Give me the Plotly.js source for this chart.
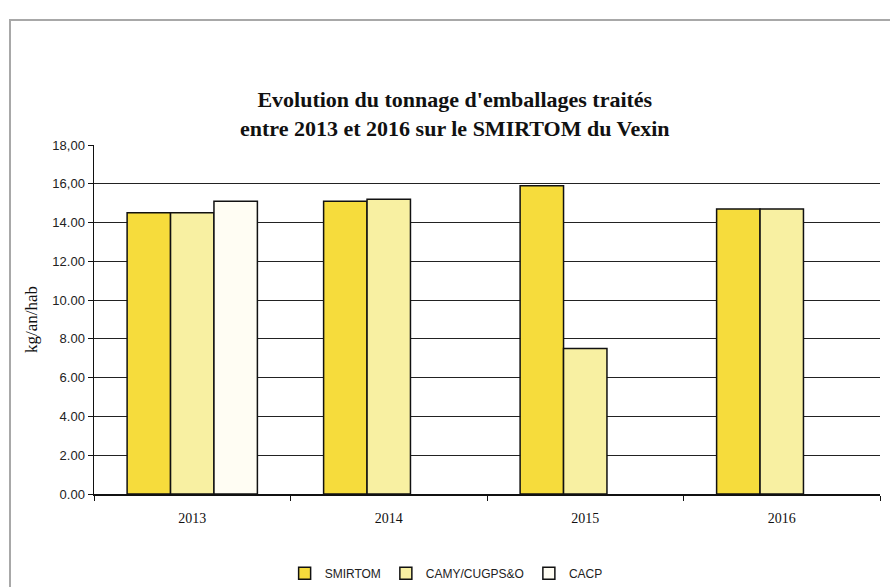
<!DOCTYPE html>
<html>
<head>
<meta charset="utf-8">
<script src="https://cdn.plot.ly/plotly-3.0.1.min.js"></script>
<style>
html,body{margin:0;padding:0;background:#fff;}
#wrap{position:relative;width:890px;height:587px;overflow:hidden;}
#chart{position:absolute;left:0;top:0;width:890px;height:587px;}
#frame{position:absolute;left:9px;top:19px;width:900px;height:600px;border:2px solid #a8a8a8;pointer-events:none;}
</style>
</head>
<body>
<div id="wrap"><div id="chart"></div><div id="frame"></div></div>
<script>
var years = ['2013', '2014', '2015', '2016'];
var smirtom = [14.5, 15.1, 15.9, 14.7];
var camy = [14.5, 15.2, 7.5, 14.7];
var cacp = [15.1, null, null, null];
var seriesNames = ['SMIRTOM', 'CAMY/CUGPS&O', 'CACP'];
var tickVals = [0, 2, 4, 6, 8, 10, 12, 14, 16, 18];
var tickLabels = ['0.00', '2.00', '4.00', '6.00', '8.00', '10.00', '12.00', '14.00', '16,00', '18,00'];

var colors = ['#F6DC3C', '#F8F0A2', '#FFFDF3'];
var series = [smirtom, camy, cacp];
var traces = series.map(function (vals, i) {
  return {
    type: 'bar',
    name: seriesNames[i],
    x: years,
    y: vals,
    marker: {color: colors[i], line: {color: '#111', width: 1.5}},
    hoverinfo: 'skip'
  };
});

var layout = {
  width: 890, height: 587,
  margin: {l: 94, r: 10, t: 145, b: 93, autoexpand: false},
  paper_bgcolor: 'rgba(0,0,0,0)',
  plot_bgcolor: '#fff',
  barmode: 'group',
  bargap: 0.337,
  bargroupgap: 0,
  showlegend: true,
  title: {
    text: "Evolution du tonnage d'emballages traités<br>entre 2013 et 2016 sur le SMIRTOM du Vexin",
    font: {family: 'Liberation Serif, Times New Roman, serif', size: 22, color: '#111', weight: 'bold'},
    x: 0.511, xanchor: 'center', y: 0.817, yanchor: 'middle'
  },
  xaxis: {
    type: 'category',
    automargin: false,
    showline: true, linecolor: '#111', linewidth: 1.5,
    ticks: 'outside', ticklen: 5, tickcolor: '#111',
    tickson: 'boundaries',
    ticklabelstandoff: 11,
    showgrid: false,
    tickfont: {family: 'Liberation Serif, Times New Roman, serif', size: 14, color: '#111'}
  },
  yaxis: {
    range: [0, 18],
    automargin: false,
    tickvals: tickVals, ticktext: tickLabels,
    showline: true, linecolor: '#111', linewidth: 1.5,
    ticks: 'outside', ticklen: 5, tickcolor: '#111',
    showgrid: true, gridcolor: '#222', gridwidth: 1.2,
    zeroline: false,
    tickfont: {family: 'Liberation Sans, Arial, sans-serif', size: 13, color: '#222'},
    title: {text: 'kg/an/hab', font: {family: 'Liberation Serif, Times New Roman, serif', size: 17, color: '#111'}, standoff: 10}
  },
  legend: {
    orientation: 'h', x: 0.448, xanchor: 'center', y: -0.227, yanchor: 'middle',
    font: {family: 'Liberation Sans, Arial, sans-serif', size: 12, color: '#222'},
    itemwidth: 30, tracegroupgap: 0
  }
};

Plotly.newPlot('chart', traces, layout, {displayModeBar: false, staticPlot: true});
</script>
</body>
</html>
